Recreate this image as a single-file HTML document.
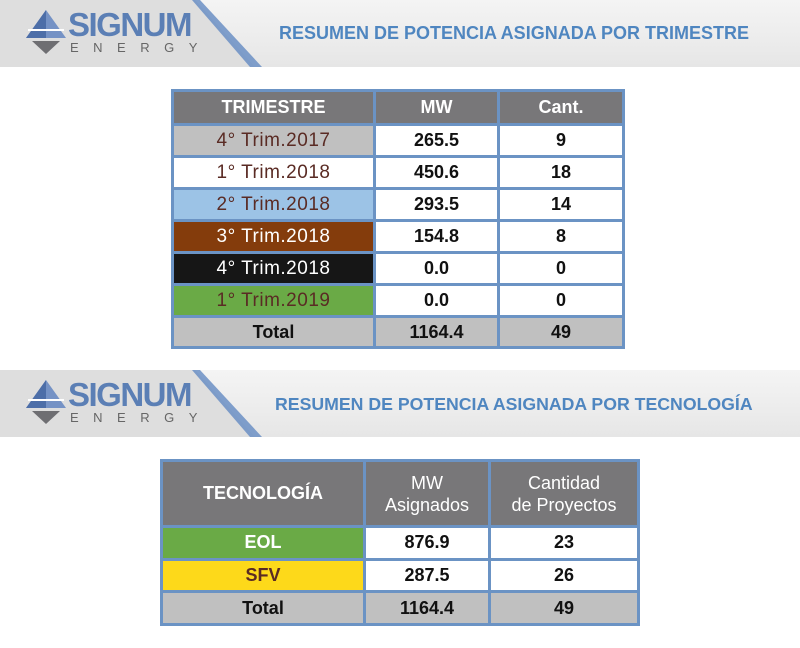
<!DOCTYPE html>
<html><head><meta charset="utf-8"><style>
*{margin:0;padding:0;box-sizing:border-box}
body{width:800px;height:648px;background:#fff;position:relative;overflow:hidden;font-family:"Liberation Sans",sans-serif}
.band{position:absolute;left:0;width:800px;height:67px;background:linear-gradient(#f4f4f4,#ececec 60%,#e6e6e6)}
.band .left{position:absolute;left:0;top:0;height:67px;width:260px;background:#dedede;clip-path:polygon(0 0,195px 0,255px 67px,0 67px)}
.band svg.diag{position:absolute;left:0;top:0}
.logo{position:absolute;left:24px;top:8px}
.sig{position:absolute;left:68px;top:6px;font-size:33px;font-weight:bold;color:#5b7fb5;letter-spacing:-1.5px}
.en{position:absolute;left:70px;top:40px;font-size:13px;color:#666;letter-spacing:14.5px}
.title{position:absolute;font-size:18px;font-weight:bold;color:#4f86c0}
table{position:absolute;border-collapse:separate;border-spacing:3px;background:#6b93c4}
td{text-align:center;font-weight:bold;font-size:18px;color:#111;background:#fff;padding:0}
td.h{background:#787779;color:#fff}
td.t{background:#c0c0c0}
td.q{font-size:19px;letter-spacing:0.5px;font-weight:normal;color:#5a2b24}
</style></head><body>

<div class="band" style="top:0">
 <div class="left"></div>
 <svg class="diag" width="300" height="67"><polygon points="192,0 200,0 262,67 250,67" fill="#6b8fc4" opacity="0.85"/></svg>
 <svg class="logo" width="44" height="48"><polygon points="22,2 42,30 2,30" fill="#7592c5"/><polygon points="22,2 22,30 2,30" fill="#4d6ea8"/><polygon points="8,33 36,33 22,46" fill="#6e6e72"/><line x1="4" y1="22" x2="40" y2="22" stroke="#fff" stroke-width="2"/></svg>
 <div class="sig">SIGNUM</div>
 <div class="en">ENERGY</div>
 <div class="title" style="left:279px;top:23px">RESUMEN DE POTENCIA ASIGNADA POR TRIMESTRE</div>
</div>

<table style="left:171px;top:89px;width:454px;height:260px">
<tr style="height:31px"><td class="h" style="width:199px">TRIMESTRE</td><td class="h" style="width:121px">MW</td><td class="h">Cant.</td></tr>
<tr><td class="q" style="background:#c0c0c0">4° Trim.2017</td><td>265.5</td><td>9</td></tr>
<tr><td class="q">1° Trim.2018</td><td>450.6</td><td>18</td></tr>
<tr><td class="q" style="background:#9cc3e6">2° Trim.2018</td><td>293.5</td><td>14</td></tr>
<tr><td class="q" style="background:#843c0c;color:#fff">3° Trim.2018</td><td>154.8</td><td>8</td></tr>
<tr><td class="q" style="background:#161616;color:#fff">4° Trim.2018</td><td>0.0</td><td>0</td></tr>
<tr><td class="q" style="background:#6aaa46">1° Trim.2019</td><td>0.0</td><td>0</td></tr>
<tr><td class="t">Total</td><td class="t">1164.4</td><td class="t">49</td></tr>
</table>

<div class="band" style="top:370px">
 <div class="left"></div>
 <svg class="diag" width="300" height="67"><polygon points="192,0 200,0 262,67 250,67" fill="#6b8fc4" opacity="0.85"/></svg>
 <svg class="logo" width="44" height="48"><polygon points="22,2 42,30 2,30" fill="#7592c5"/><polygon points="22,2 22,30 2,30" fill="#4d6ea8"/><polygon points="8,33 36,33 22,46" fill="#6e6e72"/><line x1="4" y1="22" x2="40" y2="22" stroke="#fff" stroke-width="2"/></svg>
 <div class="sig">SIGNUM</div>
 <div class="en">ENERGY</div>
 <div class="title" style="left:275px;top:24px;font-size:17.7px">RESUMEN DE POTENCIA ASIGNADA POR TECNOLOGÍA</div>
</div>

<table style="left:160px;top:459px;width:480px;height:167px">
<tr style="height:63px"><td class="h" style="width:200px">TECNOLOGÍA</td><td class="h" style="width:122px;font-weight:normal;line-height:22px">MW<br>Asignados</td><td class="h" style="font-weight:normal;line-height:22px">Cantidad<br>de Proyectos</td></tr>
<tr><td style="background:#6aaa46;color:#fff">EOL</td><td>876.9</td><td>23</td></tr>
<tr><td style="background:#fdd91a;color:#5a2b24">SFV</td><td>287.5</td><td>26</td></tr>
<tr><td class="t">Total</td><td class="t">1164.4</td><td class="t">49</td></tr>
</table>
</body></html>
